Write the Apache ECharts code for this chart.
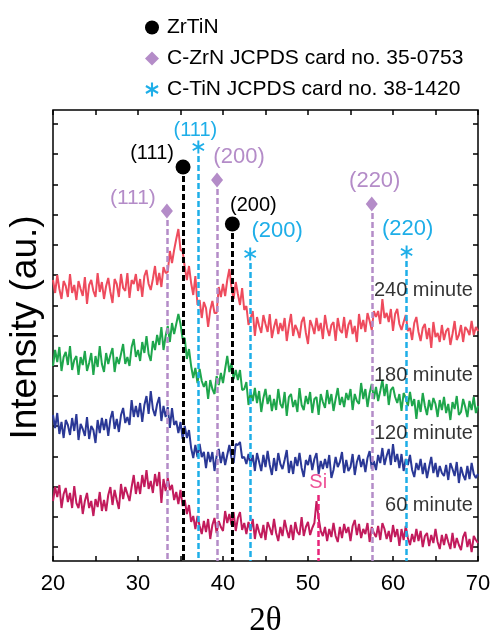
<!DOCTYPE html>
<html>
<head>
<meta charset="utf-8">
<script src="https://cdn.jsdelivr.net/npm/echarts@6/dist/echarts.min.js"></script>
<style>
html, body { margin: 0; padding: 0; background: #fff; }
#charts { width: 492px; height: 633px; }
</style>
</head>
<body>
<div id="charts"></div>
<script>
// 2θ grid of the scans
const thetaStart = 20
const thetaStep = 0.25

// intensities (au.), already offset for stacking
const trace240 = [
  281, 268, 286, 272, 262, 280, 275, 264, 287, 268, 276, 261, 280, 272, 265, 284,
  257, 276, 281, 270, 264, 288, 269, 279, 262, 275, 283, 269, 258, 282, 277, 264,
  287, 273, 270, 288, 263, 281, 277, 287, 270, 282, 264, 285, 291, 277, 271, 282,
  295, 276, 288, 274, 294, 288, 289, 310, 298, 311, 322, 332, 311, 310, 294, 281,
  295, 278, 266, 285, 256, 261, 243, 259, 253, 234, 251, 260, 248, 248, 274, 264,
  277, 265, 281, 292, 273, 262, 279, 267, 256, 273, 251, 255, 236, 243, 250, 225,
  244, 235, 228, 246, 237, 229, 247, 223, 234, 242, 227, 238, 230, 243, 220, 235,
  247, 225, 236, 231, 223, 239, 244, 228, 217, 241, 235, 227, 243, 230, 238, 222,
  246, 233, 225, 236, 239, 220, 243, 231, 228, 244, 223, 236, 241, 227, 235, 219,
  247, 232, 241, 229, 248, 240, 231, 250, 244, 250, 237, 262, 243, 248, 239, 252,
  230, 247, 252, 237, 231, 239, 246, 230, 233, 221, 238, 244, 229, 220, 233, 237,
  222, 233, 213, 239, 224, 228, 219, 236, 221, 230, 233, 216, 227, 240, 221, 226,
  236, 219, 234, 231, 226, 240, 226, 234, 230
]
const trace180 = [
  195, 211, 199, 214, 190, 204, 209, 196, 215, 191, 201, 205, 186, 204, 196, 210,
  190, 198, 208, 186, 205, 194, 215, 197, 189, 208, 197, 206, 213, 189, 204, 197,
  207, 217, 197, 204, 195, 214, 222, 204, 211, 200, 219, 208, 225, 207, 200, 220,
  211, 226, 216, 234, 211, 225, 235, 219, 238, 227, 237, 247, 237, 222, 223, 202,
  212, 195, 183, 193, 178, 192, 180, 174, 180, 162, 181, 172, 167, 185, 176, 188,
  178, 192, 205, 189, 198, 182, 191, 181, 191, 171, 172, 179, 156, 169, 160, 173,
  158, 170, 149, 163, 172, 157, 166, 150, 162, 151, 172, 157, 153, 169, 145, 164,
  167, 154, 161, 149, 173, 156, 151, 165, 157, 169, 148, 162, 164, 146, 167, 159,
  153, 171, 157, 167, 150, 162, 173, 156, 164, 154, 168, 161, 172, 151, 167, 160,
  157, 178, 162, 172, 154, 168, 177, 162, 174, 160, 170, 181, 165, 177, 156, 171,
  174, 164, 158, 167, 150, 168, 163, 155, 169, 155, 162, 142, 161, 149, 168, 155,
  146, 161, 151, 163, 157, 144, 161, 151, 164, 148, 157, 141, 159, 152, 165, 146,
  149, 162, 154, 144, 160, 151, 164, 148, 155
]
const trace120 = [
  146, 133, 148, 127, 139, 123, 141, 136, 126, 143, 130, 147, 121, 137, 132, 125,
  144, 122, 135, 131, 118, 141, 128, 143, 131, 142, 125, 142, 150, 132, 142, 129,
  146, 153, 138, 144, 136, 161, 144, 155, 144, 158, 139, 156, 165, 147, 170, 152,
  145, 157, 164, 140, 155, 144, 154, 133, 153, 136, 140, 128, 139, 122, 135, 123,
  131, 113, 103, 116, 104, 117, 104, 109, 93, 109, 99, 109, 90, 105, 112, 98,
  109, 96, 106, 116, 103, 98, 117, 116, 119, 103, 104, 97, 107, 96, 106, 90,
  108, 99, 90, 106, 94, 110, 96, 86, 103, 90, 108, 97, 92, 101, 111, 88,
  100, 87, 104, 95, 108, 93, 84, 101, 96, 106, 91, 102, 108, 87, 100, 92,
  102, 93, 106, 83, 91, 104, 94, 99, 109, 88, 101, 90, 94, 107, 86, 99,
  106, 94, 102, 89, 103, 110, 92, 100, 91, 106, 98, 113, 96, 105, 112, 96,
  117, 99, 107, 93, 107, 90, 102, 96, 106, 91, 84, 98, 91, 102, 87, 98,
  83, 94, 104, 88, 98, 84, 95, 88, 85, 96, 81, 98, 92, 85, 99, 78,
  94, 86, 81, 95, 82, 98, 87, 83, 87
]
const trace60 = [
  60, 74, 64, 76, 53, 67, 73, 59, 68, 53, 75, 58, 53, 66, 47, 60,
  68, 53, 60, 45, 62, 54, 69, 50, 61, 50, 66, 74, 56, 71, 61, 52,
  77, 62, 74, 67, 60, 74, 86, 67, 79, 67, 86, 74, 91, 72, 80, 68,
  87, 75, 89, 58, 82, 70, 83, 71, 76, 61, 69, 57, 71, 55, 61, 47,
  56, 39, 45, 32, 45, 35, 27, 40, 29, 42, 22, 36, 43, 28, 40, 34,
  30, 50, 38, 47, 36, 49, 30, 43, 49, 31, 38, 27, 39, 30, 42, 22,
  37, 29, 23, 36, 21, 39, 33, 26, 42, 28, 20, 34, 25, 41, 31, 23,
  36, 21, 39, 29, 26, 44, 25, 34, 39, 26, 33, 38, 60, 43, 30, 25,
  34, 20, 32, 24, 38, 25, 19, 34, 23, 37, 28, 34, 20, 35, 41, 26,
  37, 23, 32, 27, 38, 19, 34, 28, 24, 35, 21, 38, 32, 22, 30, 19,
  36, 24, 32, 15, 32, 21, 35, 23, 16, 27, 19, 32, 20, 30, 14, 25,
  28, 15, 26, 18, 32, 19, 12, 26, 16, 27, 19, 12, 28, 13, 23, 16,
  11, 24, 29, 14, 22, 9, 25, 21, 18
]
const traceNames = ['240 minute', '180 minute', '120 minute', '60 minute']
const traceColors = ['#ee4b5d', '#1ea64c', '#2a3896', '#c21b5c']
const traceLabelY = [271, 186, 128, 56]
const traceLabelX = 69.4

// reference peaks
const zrtinPos = [35.3, 41.1]
const zrtinTop = [394, 337]
const zrtinHkl = ['(111)', '(200)']
const zrnPos = [33.4, 39.3, 57.5]
const zrnTop = [350, 381, 357]
const zrnHkl = ['(111)', '(200)', '(220)']
const tinPos = [37.1, 43.2, 61.6]
const tinTop = [414, 307, 309]
const tinHkl = ['(111)', '(200)', '(220)']
const siPos = 51.2
const siTop = 66

const legendNames = ['ZrTiN', 'C-ZrN JCPDS card no. 35-0753', 'C-TiN JCPDS card no. 38-1420']

const font = 'Liberation Sans, Arial, sans-serif'
const purple = '#b48cc8'
const cyan = '#1eaee8'
const asterisk = 'path://M11.5 0L11.5 20L8.5 20L8.5 0ZM2.09 3.7L19.41 13.7L17.91 16.3L0.59 6.3ZM0.59 13.7L17.91 3.7L19.41 6.3L2.09 16.3Z'

function toPoints(arr) {
  return arr.map((v, i) => [thetaStart + i * thetaStep, v])
}

function refSeries(name, pos, top, hkl, symbol, size, color, lineWidth, offsets, fontSizes) {
  return {
    name: name,
    type: 'scatter',
    symbol: symbol,
    symbolSize: size,
    symbolKeepAspect: true,
    itemStyle: { color: color, opacity: 1 },
    z: 5,
    data: pos.map((x, i) => ({
      value: [x, top[i]],
      label: { offset: offsets[i], fontSize: fontSizes[i] }
    })),
    label: {
      show: true,
      position: 'inside',
      color: color,
      fontFamily: font,
      formatter: p => hkl[p.dataIndex]
    },
    markLine: {
      silent: true,
      symbol: ['none', 'none'],
      label: { show: false },
      lineStyle: { color: color, width: lineWidth, type: [6, 3], opacity: 1 },
      data: pos.map((x, i) => [{ coord: [x, top[i] - 9] }, { coord: [x, 0] }])
    }
  }
}

const series = []
;[trace240, trace180, trace120, trace60].forEach((t, k) => {
  series.push({
    name: traceNames[k],
    type: 'line',
    symbol: 'none',
    data: toPoints(t),
    lineStyle: { color: traceColors[k], width: 2 },
    z: 2
  })
})
series.push({
  name: 'labels',
  type: 'scatter',
  symbolSize: 0,
  data: traceLabelY.map(y => [traceLabelX, y]),
  label: {
    show: true,
    position: 'left',
    distance: 0,
    color: '#000',
    fontSize: 20,
    fontFamily: font,
    formatter: p => traceNames[p.dataIndex]
  },
  z: 6
})
series.push(refSeries(legendNames[0], zrtinPos, zrtinTop, zrtinHkl, 'circle', 15, '#000', 3,
  [[-31, -14], [21, -19]], [20, 20]))
series.push(refSeries(legendNames[1], zrnPos, zrnTop, zrnHkl, 'diamond', [12, 15], purple, 2.5,
  [[-34, -13], [22, -23], [3, -23]], [21, 22, 22]))
series.push(refSeries(legendNames[2], tinPos, tinTop, tinHkl, asterisk, 13, cyan, 2.5,
  [[-3, -17], [27, -23], [1, -23]], [20, 22, 22]))
series.push({
  name: 'Si',
  type: 'scatter',
  symbolSize: 0,
  data: [[siPos, siTop]],
  label: { show: true, position: 'top', distance: 3, color: '#e8247a', fontSize: 20, fontFamily: font, formatter: 'Si' },
  markLine: {
    silent: true,
    symbol: ['none', 'none'],
    label: { show: false },
    lineStyle: { color: '#e8247a', width: 2.5, type: [6, 3], opacity: 1 },
    data: [[{ coord: [siPos, siTop] }, { coord: [siPos, 0] }]]
  },
  z: 5
})

const myCharts = echarts.init(document.getElementById('charts'))
myCharts.setOption({
  animation: false,
  backgroundColor: '#fff',
  legend: {
    data: legendNames,
    orient: 'vertical',
    left: 140,
    top: 12,
    itemWidth: 14,
    itemHeight: 14,
    itemGap: 10,
    textStyle: { fontSize: 21, color: '#000', fontFamily: font, padding: [0, 0, 0, 3] },
    selectedMode: false
  },
  grid: [
    { left: 53, right: 14, top: 110, bottom: 72, show: true, borderColor: '#000', borderWidth: 1.5, outerBoundsMode: 'none' },
    { left: 53, right: 14, top: 124, bottom: 86, outerBoundsMode: 'none' }
  ],
  xAxis: [
    {
      type: 'value', min: 20, max: 70, interval: 5, gridIndex: 0, position: 'bottom',
      axisLine: { show: false },
      axisTick: { show: true, inside: true, length: 5, lineStyle: { color: '#000', width: 1.5 } },
      splitLine: { show: false },
      axisLabel: {
        fontSize: 22, color: '#000', fontFamily: font, margin: 12,
        formatter: v => (v % 10 === 0 ? String(v) : '')
      },
      name: '2θ', nameLocation: 'middle', nameGap: 44,
      nameTextStyle: { fontSize: 33, color: '#000', fontFamily: 'Liberation Serif, Times New Roman, serif' }
    },
    {
      type: 'value', min: 20, max: 70, interval: 5, gridIndex: 0, position: 'top',
      axisLine: { show: false },
      axisTick: { show: true, inside: true, length: 5, lineStyle: { color: '#000', width: 1.5 } },
      splitLine: { show: false },
      axisLabel: { show: false }
    },
    { type: 'value', min: 0, max: 1, gridIndex: 1, show: false }
  ],
  yAxis: [
    {
      type: 'value', min: 0, max: 451, gridIndex: 0,
      axisLine: { show: false }, axisTick: { show: false }, axisLabel: { show: false },
      splitLine: { show: false },
      name: 'Intensity (au.)', nameLocation: 'middle', nameGap: 9,
      nameTextStyle: { fontSize: 37, color: '#000', fontFamily: font, padding: [0, 0, 0, 16] }
    },
    {
      type: 'value', min: 0, max: 14, interval: 1, gridIndex: 1, position: 'left',
      axisLine: { show: false }, axisLabel: { show: false }, splitLine: { show: false },
      axisTick: { show: true, inside: true, length: 5, lineStyle: { color: '#000', width: 1.5 } }
    },
    {
      type: 'value', min: 0, max: 14, interval: 1, gridIndex: 1, position: 'right',
      axisLine: { show: false }, axisLabel: { show: false }, splitLine: { show: false },
      axisTick: { show: true, inside: true, length: 5, lineStyle: { color: '#000', width: 1.5 } }
    }
  ],
  series: series
})
</script>
</body>
</html>
